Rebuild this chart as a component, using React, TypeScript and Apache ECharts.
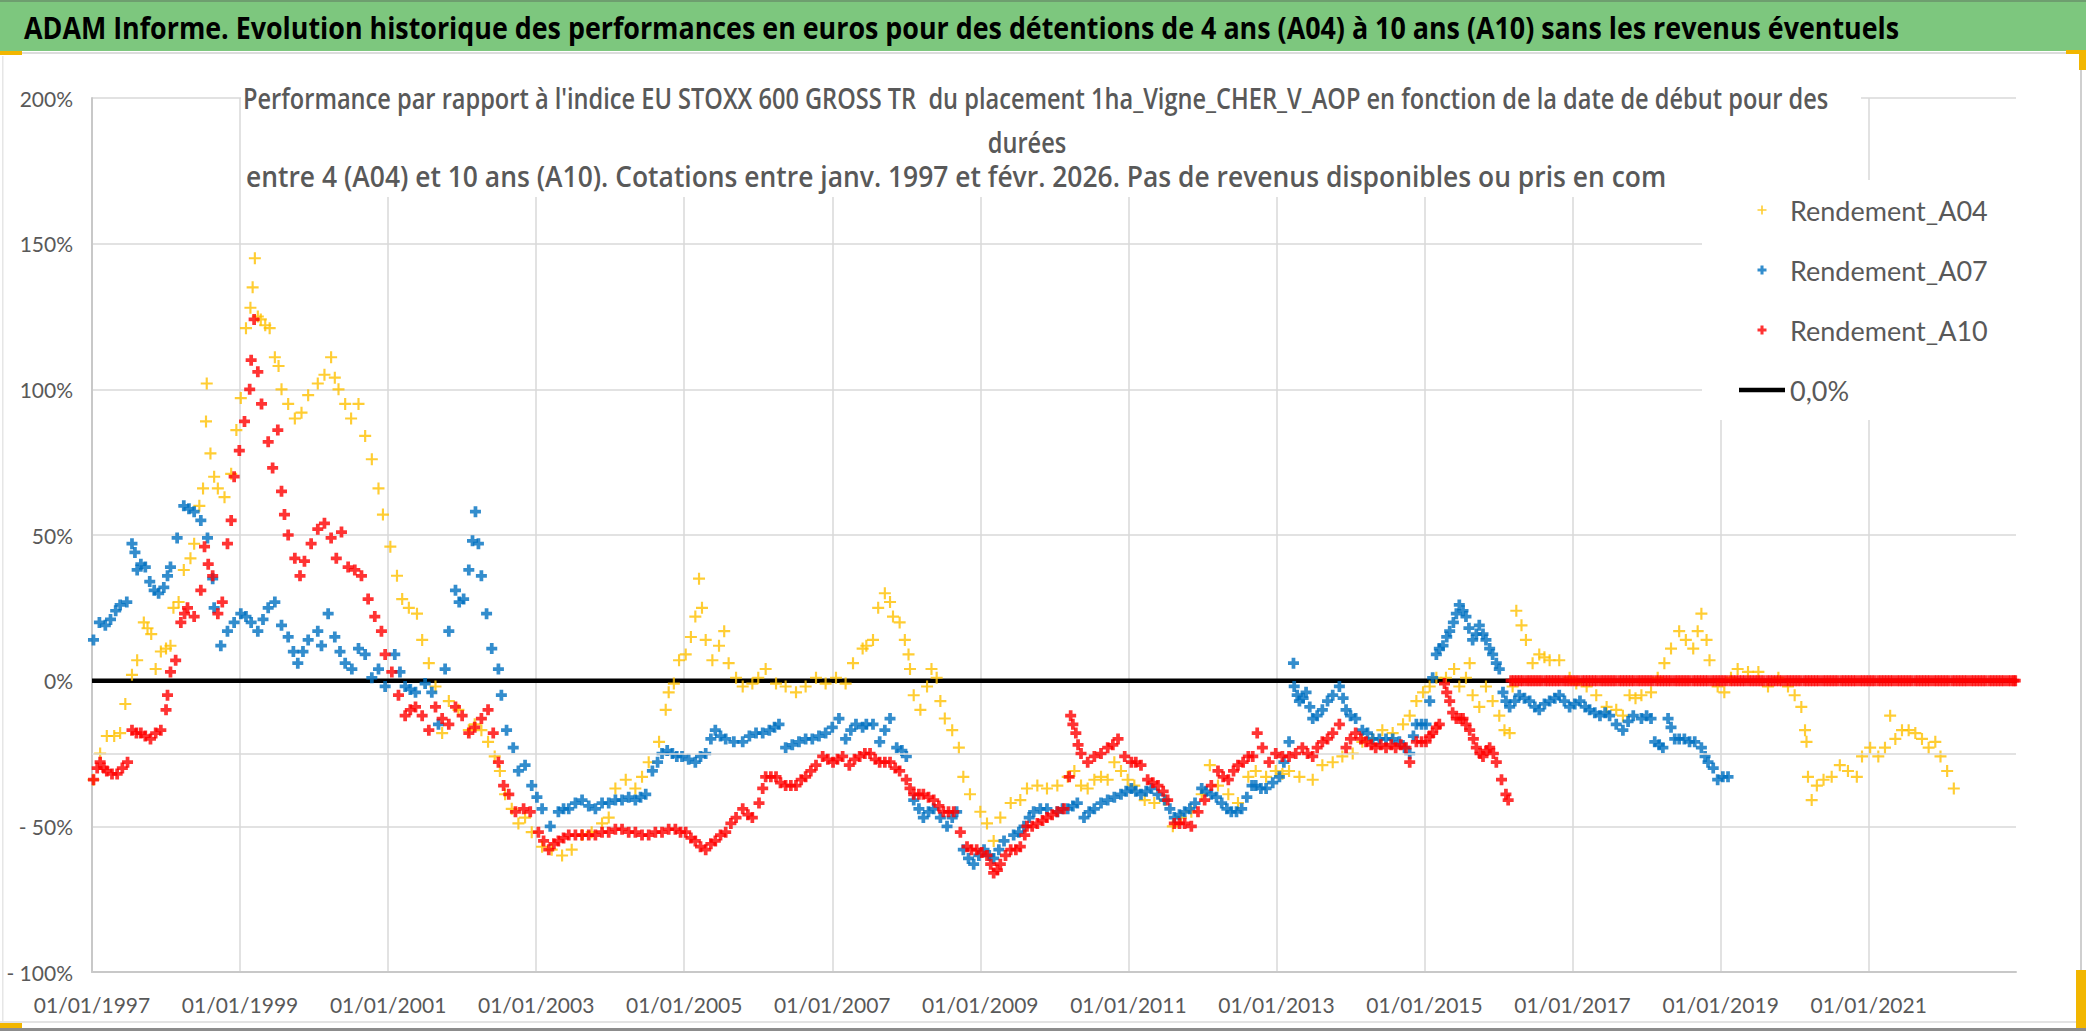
import React, { useEffect, useRef } from 'react';
import * as echarts from 'echarts';

const TITLE = "ADAM Informe. Evolution historique des performances en euros pour des détentions de 4 ans (A04) à 10 ans (A10) sans les revenus éventuels";
const SUB1 = "Performance par rapport à l'indice EU STOXX 600 GROSS TR  du placement 1ha_Vigne_CHER_V_AOP en fonction de la date de début pour des";
const SUB2 = "durées";
const SUB3 = "entre 4 (A04) et 10 ans (A10). Cotations entre janv. 1997 et févr. 2026. Pas de revenus disponibles ou pris en com";

const SERIES_NAMES = ['Rendement_A04', 'Rendement_A07', 'Rendement_A10', '0,0%'];

// [year, performance %]
const A04: number[][] = [[1997.02,-34],[1997.11,-25],[1997.2,-19],[1997.3,-19],[1997.38,-18],[1997.45,-8],[1997.54,2],[1997.61,7],[1997.7,20],[1997.75,18],[1997.8,16],[1997.86,4],[1997.93,10],[1998.0,11],[1998.06,12],[1998.1,25],[1998.17,27],[1998.24,38],[1998.33,42],[1998.38,47],[1998.45,60],[1998.5,66],[1998.54,89],[1998.55,102],[1998.6,78],[1998.65,70],[1998.7,66],[1998.79,63],[1998.88,71],[1998.95,86],[1999.01,97],[1999.08,121],[1999.14,128],[1999.17,135],[1999.2,145],[1999.24,125],[1999.28,124],[1999.34,122],[1999.4,121],[1999.47,111],[1999.52,108],[1999.56,100],[1999.65,95],[1999.74,90],[1999.83,92],[1999.92,98],[2000.05,102],[2000.14,105],[2000.23,111],[2000.28,104],[2000.33,100],[2000.42,95],[2000.5,90],[2000.6,95],[2000.69,84],[2000.78,76],[2000.87,66],[2000.93,57],[2001.03,46],[2001.12,36],[2001.19,28],[2001.28,25],[2001.39,23],[2001.46,14],[2001.55,6],[2001.64,-2],[2001.73,-18],[2001.82,-7],[2001.95,-10],[2002.09,-17],[2002.17,-15],[2002.26,-17],[2002.35,-21],[2002.44,-26],[2002.51,-31],[2002.58,-39],[2002.67,-44],[2002.76,-49],[2002.85,-47],[2002.94,-52],[2003.08,-57],[2003.21,-58],[2003.35,-60],[2003.48,-58],[2003.62,-53],[2003.75,-52],[2003.89,-49],[2003.98,-47],[2004.07,-37],[2004.21,-34],[2004.34,-37],[2004.43,-33],[2004.52,-28],[2004.66,-21],[2004.75,-10],[2004.79,-4],[2004.86,-1],[2004.93,7],[2005.02,9],[2005.09,15],[2005.15,22],[2005.2,35],[2005.24,25],[2005.29,14],[2005.38,7],[2005.47,12],[2005.54,17],[2005.6,6],[2005.7,1],[2005.79,-2],[2005.92,-1],[2006.0,1],[2006.1,4],[2006.24,-1],[2006.37,-2],[2006.51,-4],[2006.64,-2],[2006.78,1],[2006.91,-1],[2007.05,1],[2007.18,-1],[2007.28,6],[2007.41,11],[2007.46,12],[2007.55,14],[2007.62,25],[2007.71,30],[2007.78,27],[2007.82,22],[2007.91,20],[2007.98,14],[2008.03,9],[2008.05,4],[2008.1,-5],[2008.19,-10],[2008.28,-2],[2008.34,4],[2008.41,1],[2008.46,-7],[2008.52,-13],[2008.62,-17],[2008.71,-23],[2008.77,-33],[2008.86,-39],[2009.0,-45],[2009.09,-49],[2009.18,-55],[2009.27,-47],[2009.41,-42],[2009.54,-41],[2009.63,-37],[2009.77,-36],[2009.9,-37],[2010.04,-36],[2010.18,-33],[2010.27,-31],[2010.36,-36],[2010.45,-37],[2010.54,-34],[2010.63,-33],[2010.72,-34],[2010.81,-28],[2010.9,-31],[2010.99,-34],[2011.08,-36],[2011.22,-41],[2011.35,-42],[2011.49,-41],[2011.6,-50],[2011.71,-47],[2011.85,-45],[2011.99,-39],[2012.1,-29],[2012.21,-36],[2012.35,-39],[2012.48,-42],[2012.62,-33],[2012.72,-31],[2012.86,-33],[2012.99,-31],[2013.08,-32],[2013.17,-31],[2013.31,-33],[2013.49,-34],[2013.62,-29],[2013.76,-28],[2013.89,-26],[2014.03,-25],[2014.16,-21],[2014.3,-20],[2014.43,-17],[2014.57,-18],[2014.71,-15],[2014.8,-12],[2014.89,-7],[2014.98,-4],[2015.07,-2],[2015.16,1],[2015.29,1],[2015.4,4],[2015.47,-2],[2015.56,1],[2015.61,6],[2015.65,-5],[2015.74,-9],[2015.83,-2],[2015.92,-7],[2016.01,-12],[2016.08,-17],[2016.15,-18],[2016.19,-2],[2016.24,24],[2016.31,19],[2016.37,14],[2016.46,6],[2016.55,9],[2016.62,8],[2016.69,7],[2016.82,7],[2016.96,1],[2017.05,-1],[2017.19,-2],[2017.32,-5],[2017.46,-9],[2017.59,-10],[2017.68,-12],[2017.77,-5],[2017.85,-6],[2017.93,-5],[2018.06,-4],[2018.15,1],[2018.24,6],[2018.33,11],[2018.44,17],[2018.53,14],[2018.63,11],[2018.69,17],[2018.74,23],[2018.81,14],[2018.85,7],[2018.96,-2],[2019.05,-4],[2019.14,1],[2019.23,4],[2019.37,3],[2019.51,3],[2019.64,-2],[2019.78,1],[2019.91,-2],[2020.0,-5],[2020.09,-9],[2020.14,-17],[2020.16,-21],[2020.18,-33],[2020.23,-41],[2020.3,-36],[2020.39,-34],[2020.5,-33],[2020.61,-29],[2020.72,-31],[2020.84,-33],[2020.91,-26],[2021.02,-23],[2021.13,-26],[2021.22,-23],[2021.29,-12],[2021.36,-20],[2021.45,-17],[2021.54,-17],[2021.63,-18],[2021.72,-20],[2021.81,-23],[2021.9,-21],[2021.97,-26],[2022.06,-31],[2022.15,-37]];

const A07: number[][] = [[1997.02,14],[1997.1,20],[1997.18,19],[1997.25,21],[1997.32,24],[1997.38,26],[1997.47,27],[1997.54,47],[1997.58,44],[1997.61,38],[1997.66,40],[1997.72,39],[1997.78,34],[1997.84,31],[1997.9,30],[1997.97,32],[1998.02,36],[1998.06,39],[1998.15,49],[1998.24,60],[1998.31,59],[1998.38,58],[1998.47,55],[1998.56,49],[1998.63,35],[1998.65,25],[1998.74,12],[1998.83,17],[1998.92,20],[1999.01,23],[1999.08,22],[1999.15,20],[1999.24,17],[1999.31,21],[1999.38,25],[1999.47,27],[1999.56,19],[1999.65,15],[1999.72,10],[1999.78,6],[1999.85,10],[1999.92,14],[2000.05,17],[2000.1,12],[2000.19,23],[2000.28,15],[2000.35,10],[2000.42,6],[2000.51,4],[2000.6,11],[2000.69,9],[2000.78,1],[2000.87,4],[2000.96,-2],[2001.09,9],[2001.16,3],[2001.23,-2],[2001.3,-3],[2001.37,-4],[2001.5,-1],[2001.59,-4],[2001.68,-15],[2001.77,4],[2001.82,17],[2001.91,31],[2001.96,27],[2002.02,28],[2002.09,38],[2002.14,48],[2002.18,58],[2002.22,47],[2002.26,36],[2002.33,23],[2002.4,11],[2002.49,4],[2002.53,-5],[2002.6,-17],[2002.69,-23],[2002.76,-31],[2002.85,-29],[2002.94,-36],[2003.01,-40],[2003.08,-44],[2003.19,-50],[2003.3,-45],[2003.37,-44],[2003.44,-44],[2003.53,-42],[2003.62,-41],[2003.71,-43],[2003.8,-44],[2003.89,-42],[2003.98,-42],[2004.07,-41],[2004.16,-41],[2004.25,-40],[2004.34,-41],[2004.41,-40],[2004.48,-39],[2004.57,-31],[2004.64,-28],[2004.7,-25],[2004.77,-24],[2004.84,-25],[2004.9,-26],[2004.97,-26],[2005.06,-27],[2005.15,-28],[2005.22,-26],[2005.29,-25],[2005.36,-20],[2005.42,-17],[2005.49,-19],[2005.56,-20],[2005.67,-21],[2005.79,-21],[2005.88,-19],[2005.97,-18],[2006.06,-18],[2006.15,-17],[2006.22,-16],[2006.28,-15],[2006.37,-23],[2006.46,-22],[2006.55,-21],[2006.64,-20],[2006.73,-20],[2006.82,-19],[2006.91,-18],[2007.0,-16],[2007.09,-13],[2007.18,-20],[2007.25,-17],[2007.32,-15],[2007.41,-16],[2007.46,-15],[2007.55,-15],[2007.64,-21],[2007.71,-17],[2007.78,-13],[2007.87,-23],[2007.94,-24],[2008.0,-26],[2008.1,-41],[2008.17,-44],[2008.23,-47],[2008.3,-45],[2008.37,-44],[2008.46,-47],[2008.55,-50],[2008.62,-47],[2008.68,-45],[2008.77,-58],[2008.84,-61],[2008.91,-63],[2008.98,-60],[2009.05,-58],[2009.12,-60],[2009.18,-61],[2009.25,-58],[2009.32,-55],[2009.45,-53],[2009.52,-52],[2009.59,-50],[2009.66,-47],[2009.72,-45],[2009.81,-44],[2009.9,-44],[2010.04,-45],[2010.11,-44],[2010.18,-44],[2010.25,-43],[2010.31,-42],[2010.4,-47],[2010.47,-45],[2010.54,-44],[2010.63,-42],[2010.72,-41],[2010.81,-40],[2010.9,-39],[2010.97,-38],[2011.04,-37],[2011.1,-38],[2011.17,-39],[2011.24,-38],[2011.31,-37],[2011.4,-39],[2011.49,-41],[2011.56,-44],[2011.62,-47],[2011.69,-46],[2011.76,-45],[2011.83,-44],[2011.9,-42],[2011.99,-37],[2012.05,-38],[2012.12,-39],[2012.19,-40],[2012.26,-42],[2012.33,-44],[2012.39,-45],[2012.46,-45],[2012.53,-44],[2012.6,-40],[2012.67,-36],[2012.72,-36],[2012.79,-37],[2012.86,-37],[2012.95,-35],[2013.04,-33],[2013.1,-28],[2013.17,-21],[2013.23,6],[2013.24,-2],[2013.28,-5],[2013.31,-7],[2013.36,-6],[2013.4,-4],[2013.45,-9],[2013.49,-13],[2013.55,-12],[2013.62,-10],[2013.69,-7],[2013.76,-5],[2013.85,-2],[2013.9,-6],[2013.94,-10],[2014.0,-12],[2014.07,-13],[2014.16,-17],[2014.23,-18],[2014.3,-20],[2014.39,-20],[2014.48,-20],[2014.57,-20],[2014.66,-21],[2014.73,-23],[2014.8,-25],[2014.85,-19],[2014.89,-15],[2014.96,-15],[2015.02,-15],[2015.07,-7],[2015.11,1],[2015.16,9],[2015.2,11],[2015.25,12],[2015.3,15],[2015.34,17],[2015.39,20],[2015.43,23],[2015.47,26],[2015.52,24],[2015.56,22],[2015.6,18],[2015.65,14],[2015.7,16],[2015.74,19],[2015.79,16],[2015.83,14],[2015.88,11],[2015.92,9],[2015.97,6],[2016.01,4],[2016.06,-4],[2016.1,-7],[2016.15,-9],[2016.22,-7],[2016.28,-5],[2016.35,-6],[2016.42,-7],[2016.49,-9],[2016.55,-10],[2016.62,-8],[2016.69,-7],[2016.76,-6],[2016.82,-5],[2016.89,-7],[2016.96,-9],[2017.03,-8],[2017.1,-7],[2017.17,-9],[2017.23,-10],[2017.3,-11],[2017.37,-12],[2017.44,-11],[2017.5,-12],[2017.59,-15],[2017.68,-17],[2017.75,-14],[2017.82,-12],[2017.93,-13],[2018.0,-12],[2018.06,-13],[2018.11,-21],[2018.17,-22],[2018.22,-23],[2018.29,-13],[2018.33,-16],[2018.38,-20],[2018.44,-20],[2018.51,-20],[2018.58,-21],[2018.65,-21],[2018.74,-23],[2018.79,-26],[2018.83,-28],[2018.9,-30],[2018.96,-34],[2019.03,-33],[2019.1,-33]];

const A10: number[][] = [[1997.02,-34],[1997.07,-30],[1997.11,-28],[1997.16,-30],[1997.2,-31],[1997.27,-32],[1997.34,-32],[1997.41,-30],[1997.48,-28],[1997.54,-17],[1997.6,-18],[1997.66,-18],[1997.72,-19],[1997.79,-20],[1997.86,-18],[1997.93,-17],[1998.0,-10],[1998.02,-5],[1998.06,3],[1998.13,7],[1998.2,20],[1998.25,23],[1998.29,25],[1998.38,22],[1998.47,31],[1998.52,46],[1998.57,40],[1998.63,36],[1998.7,23],[1998.76,27],[1998.83,47],[1998.88,55],[1998.92,70],[1998.99,79],[1999.06,89],[1999.13,100],[1999.15,110],[1999.19,124],[1999.24,106],[1999.29,95],[1999.38,82],[1999.44,73],[1999.51,86],[1999.56,65],[1999.6,57],[1999.65,50],[1999.74,42],[1999.81,36],[1999.87,41],[1999.96,47],[2000.05,52],[2000.14,54],[2000.23,49],[2000.3,42],[2000.37,51],[2000.46,39],[2000.55,38],[2000.64,36],[2000.73,28],[2000.82,22],[2000.91,17],[2000.96,9],[2001.05,3],[2001.14,-5],[2001.23,-12],[2001.3,-10],[2001.37,-9],[2001.46,-12],[2001.55,-17],[2001.64,-9],[2001.73,-13],[2001.82,-15],[2001.91,-9],[2002.0,-12],[2002.09,-18],[2002.17,-16],[2002.26,-13],[2002.35,-10],[2002.42,-18],[2002.49,-28],[2002.56,-36],[2002.63,-39],[2002.72,-45],[2002.83,-44],[2002.92,-45],[2003.03,-52],[2003.1,-55],[2003.17,-58],[2003.24,-56],[2003.3,-55],[2003.37,-54],[2003.44,-53],[2003.53,-53],[2003.62,-53],[2003.71,-53],[2003.8,-53],[2003.89,-52],[2003.98,-52],[2004.07,-51],[2004.16,-51],[2004.25,-52],[2004.34,-52],[2004.43,-53],[2004.52,-53],[2004.61,-52],[2004.7,-52],[2004.79,-51],[2004.88,-51],[2004.95,-52],[2005.02,-52],[2005.09,-54],[2005.15,-55],[2005.22,-57],[2005.29,-58],[2005.36,-56],[2005.42,-55],[2005.49,-53],[2005.56,-52],[2005.63,-49],[2005.7,-47],[2005.79,-44],[2005.86,-46],[2005.92,-47],[2006.01,-42],[2006.06,-37],[2006.1,-33],[2006.17,-33],[2006.24,-33],[2006.3,-35],[2006.37,-36],[2006.44,-36],[2006.51,-36],[2006.58,-34],[2006.64,-33],[2006.71,-31],[2006.78,-29],[2006.87,-26],[2006.94,-27],[2007.01,-28],[2007.07,-27],[2007.14,-26],[2007.23,-29],[2007.3,-27],[2007.37,-26],[2007.44,-25],[2007.51,-25],[2007.58,-27],[2007.64,-28],[2007.71,-28],[2007.78,-28],[2007.85,-30],[2007.91,-31],[2008.0,-34],[2008.05,-37],[2008.1,-39],[2008.17,-39],[2008.23,-39],[2008.3,-40],[2008.37,-41],[2008.44,-43],[2008.5,-45],[2008.57,-45],[2008.64,-45],[2008.73,-52],[2008.82,-57],[2008.88,-58],[2008.95,-58],[2009.02,-59],[2009.09,-60],[2009.14,-63],[2009.18,-66],[2009.23,-65],[2009.27,-63],[2009.34,-60],[2009.41,-58],[2009.48,-58],[2009.54,-57],[2009.6,-53],[2009.63,-50],[2009.7,-50],[2009.77,-49],[2009.84,-48],[2009.9,-47],[2009.97,-46],[2010.04,-45],[2010.13,-44],[2010.2,-33],[2010.22,-12],[2010.25,-15],[2010.29,-18],[2010.32,-22],[2010.36,-25],[2010.45,-28],[2010.54,-26],[2010.63,-25],[2010.72,-23],[2010.79,-22],[2010.86,-20],[2010.95,-26],[2011.04,-28],[2011.1,-28],[2011.17,-29],[2011.26,-34],[2011.33,-35],[2011.4,-36],[2011.47,-38],[2011.53,-41],[2011.62,-49],[2011.69,-49],[2011.76,-49],[2011.85,-50],[2011.94,-45],[2012.03,-41],[2012.12,-36],[2012.21,-31],[2012.28,-33],[2012.35,-34],[2012.42,-31],[2012.48,-29],[2012.55,-28],[2012.62,-26],[2012.68,-26],[2012.74,-18],[2012.81,-23],[2012.9,-28],[2012.99,-25],[2013.08,-26],[2013.17,-26],[2013.26,-25],[2013.35,-23],[2013.42,-25],[2013.49,-26],[2013.55,-23],[2013.62,-21],[2013.69,-20],[2013.76,-18],[2013.85,-15],[2013.94,-23],[2014.0,-20],[2014.07,-18],[2014.14,-20],[2014.21,-21],[2014.28,-22],[2014.34,-23],[2014.41,-22],[2014.48,-23],[2014.55,-22],[2014.61,-23],[2014.68,-22],[2014.75,-23],[2014.8,-28],[2014.89,-21],[2014.96,-21],[2015.02,-21],[2015.07,-19],[2015.11,-18],[2015.16,-16],[2015.2,-15],[2015.27,-1],[2015.3,-4],[2015.34,-7],[2015.38,-11],[2015.43,-13],[2015.48,-13],[2015.52,-13],[2015.56,-15],[2015.61,-17],[2015.66,-20],[2015.7,-23],[2015.75,-25],[2015.79,-26],[2015.84,-24],[2015.88,-23],[2015.93,-25],[2015.97,-28],[2016.04,-34],[2016.1,-39],[2016.13,-41]];

// A10 start dates whose value reads 0 % (flat red band from early 2016 to the end)
const A10_ZERO_DATES: number[] = [2016.17,2016.21,2016.25,2016.29,2016.33,2016.38,2016.42,2016.46,2016.5,2016.54,2016.58,2016.63,2016.67,2016.71,2016.75,2016.79,2016.83,2016.88,2016.92,2016.96,2017.0,2017.04,2017.08,2017.13,2017.17,2017.21,2017.25,2017.29,2017.33,2017.38,2017.42,2017.46,2017.5,2017.54,2017.58,2017.63,2017.67,2017.71,2017.75,2017.79,2017.83,2017.88,2017.92,2017.96,2018.0,2018.04,2018.08,2018.13,2018.17,2018.21,2018.25,2018.29,2018.33,2018.38,2018.42,2018.46,2018.5,2018.54,2018.58,2018.63,2018.67,2018.71,2018.75,2018.79,2018.83,2018.88,2018.92,2018.96,2019.0,2019.04,2019.08,2019.13,2019.17,2019.21,2019.25,2019.29,2019.33,2019.38,2019.42,2019.46,2019.5,2019.54,2019.58,2019.63,2019.67,2019.71,2019.75,2019.79,2019.83,2019.88,2019.92,2019.96,2020.0,2020.04,2020.08,2020.13,2020.17,2020.21,2020.25,2020.29,2020.33,2020.38,2020.42,2020.46,2020.5,2020.54,2020.58,2020.63,2020.67,2020.71,2020.75,2020.79,2020.83,2020.88,2020.92,2020.96,2021.0,2021.04,2021.08,2021.13,2021.17,2021.21,2021.25,2021.29,2021.33,2021.38,2021.42,2021.46,2021.5,2021.54,2021.58,2021.63,2021.67,2021.71,2021.75,2021.79,2021.83,2021.88,2021.92,2021.96,2022.0,2022.04,2022.08,2022.13,2022.17,2022.21,2022.25,2022.29,2022.33,2022.38,2022.42,2022.46,2022.5,2022.54,2022.58,2022.63,2022.67,2022.71,2022.75,2022.79,2022.83,2022.88,2022.92,2022.96,2022.98];

const ZERO_LINE: number[][] = [[1997, 0], [2023, 0]];
const REF_LEVEL = -25;

const Y_MIN = -100, Y_MAX = 200, Y_STEP = 50;
const X_MIN = 1997, X_MAX = 2022.99, X_STEP = 2;

const PLUS_BOLD = 'path://M3.3,0H6.7V3.3H10V6.7H6.7V10H3.3V6.7H0V3.3H3.3Z';
const PLUS_THIN = 'path://M4.1,0H5.9V4.1H10V5.9H5.9V10H4.1V5.9H0V4.1H4.1Z';

const LABEL_FONT = "'Lato', 'Open Sans', sans-serif";
const FONT = "'Open Sans', 'Lato', sans-serif";

function measure(text: string, font: string): number {
  const c = document.createElement('canvas').getContext('2d');
  if (!c) return 1;
  c.font = font;
  return c.measureText(text).width || 1;
}

export default function App() {
  const ref = useRef<HTMLDivElement>(null);
  useEffect(() => {
    document.body.style.margin = '0';
    document.body.style.overflow = 'hidden';
    if (!ref.current) return;
    const chart = echarts.init(ref.current, null, { renderer: 'svg' });

    const titleFont = `bold 30px ${FONT}`;
    const subFont = `600 28px ${FONT}`;
    const titleScale = 1876 / measure(TITLE, titleFont);
    const sub1Scale = 1586 / measure(SUB1, subFont);
    const sub3Scale = 1420 / measure(SUB3, subFont);

    const a10All = A10.concat(A10_ZERO_DATES.map((d) => [d, 0]));

    chart.setOption({
      animation: false,
      backgroundColor: '#ffffff',
      grid: { left: 92, right: 70, top: 98, bottom: 59, containLabel: false },
      xAxis: {
        type: 'value', min: X_MIN, max: X_MAX, interval: X_STEP,
        axisLine: { show: true, onZero: false, lineStyle: { color: '#c8c8c8', width: 2 } },
        axisTick: { show: false },
        splitLine: { show: true, showMaxLine: false, lineStyle: { color: '#d9d9d9', width: 1.5 } },
        axisLabel: {
          margin: 22, color: '#595959', fontFamily: LABEL_FONT, fontSize: 21, showMaxLabel: false,
          formatter: (v: number) => (v > 2022 ? '' : '01/01/' + Math.round(v)),
        },
      },
      yAxis: {
        type: 'value', min: Y_MIN, max: Y_MAX, interval: Y_STEP,
        axisLine: { show: true, lineStyle: { color: '#c8c8c8', width: 2 } },
        axisTick: { show: false },
        splitLine: { show: true, lineStyle: { color: '#d9d9d9', width: 1.5 } },
        axisLabel: {
          margin: 19, color: '#595959', fontFamily: LABEL_FONT, fontSize: 21,
          formatter: (v: number) => (v < 0 ? '- ' + Math.abs(v) + '%' : v + '%'),
        },
      },
      legend: {
        orient: 'vertical', left: 1702, top: 180,
        padding: [15, 36, 15, 37], backgroundColor: '#ffffff',
        itemWidth: 46, itemHeight: 9, itemGap: 30,
        textStyle: { fontFamily: LABEL_FONT, fontSize: 27, color: '#595959', lineHeight: 30 },
        data: [
          { name: SERIES_NAMES[0] },
          { name: SERIES_NAMES[1] },
          { name: SERIES_NAMES[2] },
          { name: SERIES_NAMES[3], icon: 'path://M0,0H46V4.4H0Z' },
        ],
        z: 10,
      },
      graphic: [
        { type: 'rect', z: 1, shape: { x: 0, y: 0, width: 2086, height: 51 }, style: { fill: '#7dc77e' } },
        { type: 'rect', z: 1, shape: { x: 0, y: 0, width: 2086, height: 2 }, style: { fill: '#6e9e6f' } },
        { type: 'rect', z: 1, shape: { x: 0, y: 52, width: 2066, height: 2 }, style: { fill: '#dcdcdc' } },
        { type: 'rect', z: 1, shape: { x: 0, y: 51, width: 22, height: 4 }, style: { fill: '#f2b600' } },
        { type: 'rect', z: 1, shape: { x: 2066, y: 50, width: 20, height: 4 }, style: { fill: '#f2b600' } },
        { type: 'rect', z: 1, shape: { x: 2079, y: 50, width: 7, height: 20 }, style: { fill: '#f2b600' } },
        { type: 'rect', z: 1, shape: { x: 2080, y: 70, width: 2, height: 952 }, style: { fill: '#cfcfcf' } },
        { type: 'rect', z: 1, shape: { x: 2076, y: 970, width: 10, height: 58 }, style: { fill: '#f2b600' } },
        { type: 'rect', z: 1, shape: { x: 0, y: 1021, width: 2076, height: 2 }, style: { fill: '#e3e3e3' } },
        { type: 'rect', z: 1, shape: { x: 0, y: 1028, width: 2086, height: 3 }, style: { fill: '#8c8c8c' } },
        { type: 'rect', z: 1, shape: { x: 0, y: 1023, width: 22, height: 5 }, style: { fill: '#f2b600' } },
        { type: 'rect', z: 1, shape: { x: 2, y: 56, width: 1.5, height: 965 }, style: { fill: '#e6e6e6' } },
        {
          type: 'text', z: 2, x: 24, y: 27, scaleX: titleScale,
          style: { text: TITLE, font: titleFont, fill: '#000000', verticalAlign: 'middle', textAlign: 'left' },
        },
        { type: 'rect', z: 1, shape: { x: 241, y: 58, width: 1620, height: 139 }, style: { fill: '#ffffff' } },
        {
          type: 'text', z: 2, x: 243, y: 98, scaleX: sub1Scale,
          style: { text: SUB1, font: subFont, fill: '#595959', verticalAlign: 'middle', textAlign: 'left' },
        },
        {
          type: 'text', z: 2, x: 1027, y: 142, scaleX: sub1Scale,
          style: { text: SUB2, font: subFont, fill: '#595959', verticalAlign: 'middle', textAlign: 'center' },
        },
        {
          type: 'text', z: 2, x: 246, y: 176, scaleX: sub3Scale,
          style: { text: SUB3, font: subFont, fill: '#595959', verticalAlign: 'middle', textAlign: 'left' },
        },
      ],
      series: [
        {
          name: SERIES_NAMES[0], type: 'scatter', data: A04, symbol: PLUS_THIN, symbolSize: 12,
          symbolKeepAspect: true, itemStyle: { color: '#FFC000' }, z: 3,
        },
        {
          name: SERIES_NAMES[1], type: 'scatter', data: A07, symbol: PLUS_BOLD, symbolSize: 11,
          symbolKeepAspect: true, itemStyle: { color: '#0070C0' }, z: 4,
        },
        {
          name: SERIES_NAMES[2], type: 'scatter', data: a10All, symbol: PLUS_BOLD, symbolSize: 11,
          symbolKeepAspect: true, itemStyle: { color: '#FF0000' }, z: 5,
        },
        {
          name: SERIES_NAMES[3], type: 'line', data: ZERO_LINE, symbol: 'none', showSymbol: false,
          lineStyle: { color: '#000000', width: 4.5 }, itemStyle: { color: '#000000' }, z: 2,
          markLine: {
            silent: true, symbol: 'none', label: { show: false },
            lineStyle: { color: '#d9d9d9', width: 1.5, type: 'solid' },
            data: [{ yAxis: REF_LEVEL }],
          },
        },
      ],
    });
    return () => chart.dispose();
  }, []);
  return <div ref={ref} style={{ width: 2086, height: 1031 }} />;
}
